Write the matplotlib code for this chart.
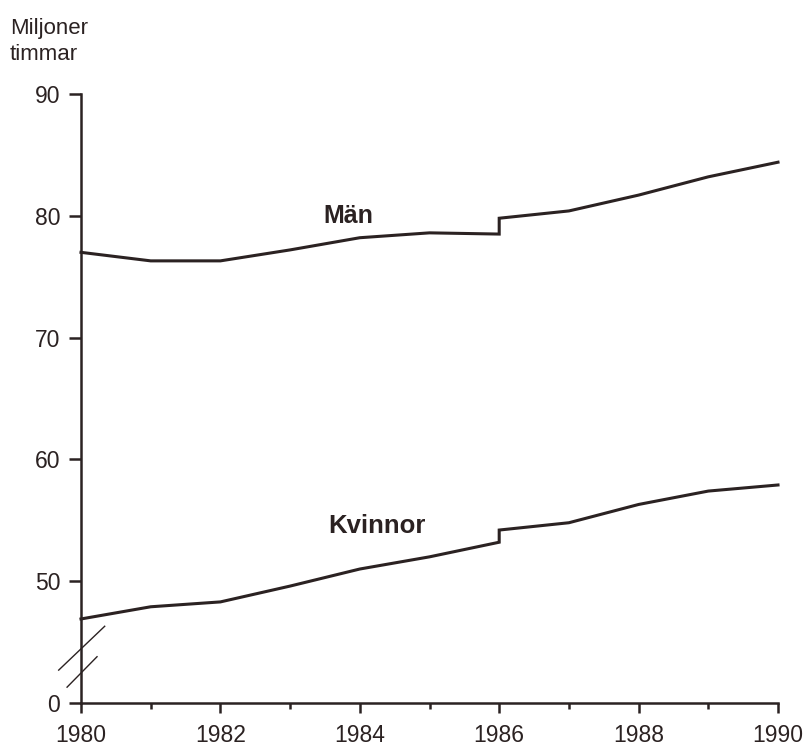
import matplotlib
matplotlib.use("Agg")
import matplotlib.pyplot as plt

plt.rcParams['font.family'] = ['Liberation Sans', 'DejaVu Sans']

# Data (the step at 1986 is a break in the series: value before / after)
years = [1980, 1981, 1982, 1983, 1984, 1985, 1986, 1986, 1987, 1988, 1989, 1990]
man = [77.0, 76.3, 76.3, 77.2, 78.2, 78.6, 78.5, 79.8, 80.4, 81.7, 83.2, 84.4]
kvinnor = [46.9, 47.9, 48.3, 49.6, 51.0, 52.0, 53.2, 54.2, 54.8, 56.3, 57.4, 57.9]

ytick_vals = [40, 50, 60, 70, 80, 90]
ytick_labels = ["0", "50", "60", "70", "80", "90"]
xtick_major = [1980, 1982, 1984, 1986, 1988, 1990]
xtick_minor = [1981, 1983, 1985, 1987, 1989]

INK = "#2b2222"

fig = plt.figure(figsize=(8.06, 7.46), dpi=100)
ax = fig.add_axes([81/806, 1 - 703/746, (778 - 81)/806, (703 - 94)/746])

ax.plot(years, man, color=INK, lw=2.2, solid_joinstyle='miter', clip_on=False)
ax.plot(years, kvinnor, color=INK, lw=2.2, solid_joinstyle='miter', clip_on=False)

ax.set_xlim(1980, 1990)
ax.set_ylim(40, 90)

for s in ['top', 'right']:
    ax.spines[s].set_visible(False)
for s in ['left', 'bottom']:
    ax.spines[s].set_linewidth(1.8)
    ax.spines[s].set_color(INK)

ax.set_yticks(ytick_vals)
ax.set_yticklabels(ytick_labels)
ax.set_xticks(xtick_major)
ax.set_xticklabels([str(y) for y in xtick_major])
ax.set_xticks(xtick_minor, minor=True)

ax.tick_params(axis='y', direction='out', length=9, width=1.8, color=INK,
               labelsize=16.5, labelcolor=INK, pad=6)
ax.tick_params(axis='x', which='major', direction='out', length=7, width=1.8,
               color=INK, labelsize=16.5, labelcolor=INK, pad=8)
ax.tick_params(axis='x', which='minor', direction='out', length=4, width=1.8,
               color=INK)

# axis break marks
ax.plot([1979.68, 1980.34], [42.7, 46.3], color=INK, lw=1.0, clip_on=False)
ax.plot([1979.80, 1980.23], [41.3, 43.8], color=INK, lw=1.0, clip_on=False)

# series labels
ax.text(1983.83, 80.0, "Män", fontsize=18, fontweight='bold', color=INK,
        ha='center', va='center')
ax.text(1984.25, 54.5, "Kvinnor", fontsize=18.5, fontweight='bold', color=INK,
        ha='center', va='center')

fig.text(10/806, 1 - 18/746, "Miljoner\ntimmar", fontsize=16, color=INK,
         ha='left', va='top', linespacing=1.3)

fig.savefig("out.png", dpi=100)
